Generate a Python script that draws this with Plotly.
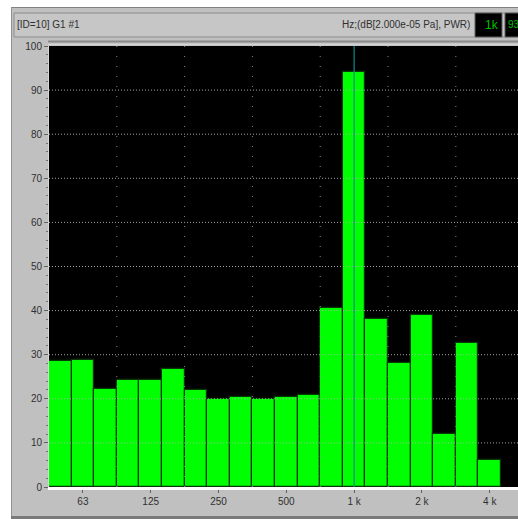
import plotly.graph_objects as go

# ---------------- data ----------------
bands = ["50", "63", "80", "100", "125", "160", "200", "250", "315", "400",
         "500", "630", "800", "1k", "1.25k", "1.6k", "2k", "2.5k", "3.15k", "4k"]
levels_db = [28.6, 28.9, 22.2, 24.3, 24.3, 26.8, 21.9, 19.9, 20.4, 19.9,
             20.4, 20.8, 40.6, 94.0, 38.0, 28.1, 38.9, 12.0, 32.7, 6.2]
tick_bands = ["63", "125", "250", "500", "1k", "2k", "4k"]
tick_text = ["63", "125", "250", "500", "1 k", "2 k", "4 k"]
y_ticks = [0, 10, 20, 30, 40, 50, 60, 70, 80, 90, 100]
cursor_band = "1k"
cursor_value = "93"
title_left = "[ID=10] G1 #1"
title_right = "Hz;(dB[2.000e-05 Pa], PWR)"

# ---------------- layout geometry ----------------
W, H = 518, 519
ML, MR, MT, MB = 49, 0, 46, 32
PW, PH = W - ML - MR, H - MT - MB


def px(x):
    return (x - ML) / PW


def py(y):
    return (H - MB - y) / PH


FONT = "Liberation Sans Narrow, Liberation Sans, Arial, sans-serif"

fig = go.Figure()
fig.add_trace(go.Bar(
    x=bands, y=levels_db,
    marker=dict(color="#00ff00", line=dict(color="#083808", width=1.2)),
    hoverinfo="x+y",
))

shapes = []
# white outer margins (left and top) and panel borders
shapes.append(dict(type="rect", xref="paper", yref="paper", layer="below",
                   x0=px(-5), x1=px(11), y0=py(-5), y1=py(525),
                   fillcolor="#ffffff", line=dict(width=0)))
shapes.append(dict(type="rect", xref="paper", yref="paper", layer="below",
                   x0=px(-5), x1=px(530), y0=py(-5), y1=py(7),
                   fillcolor="#ffffff", line=dict(width=0)))
shapes.append(dict(type="line", xref="paper", yref="paper", layer="below",
                   x0=px(11), x1=px(530), y0=py(7.5), y1=py(7.5),
                   line=dict(color="#808080", width=1)))
shapes.append(dict(type="line", xref="paper", yref="paper", layer="below",
                   x0=px(11.5), x1=px(11.5), y0=py(7), y1=py(525),
                   line=dict(color="#909090", width=1)))
shapes.append(dict(type="line", xref="paper", yref="paper", layer="below",
                   x0=px(11), x1=px(530), y0=py(517.5), y1=py(517.5),
                   line=dict(color="#7a7a7a", width=3)))
# header box
shapes.append(dict(type="rect", xref="paper", yref="paper", layer="below",
                   x0=px(14), x1=px(530), y0=py(13), y1=py(37),
                   fillcolor="#c6c6c6", line=dict(color="#8c8c8c", width=1)))
# black readout boxes
shapes.append(dict(type="rect", xref="paper", yref="paper", layer="above",
                   x0=px(475), x1=px(502), y0=py(13), y1=py(37),
                   fillcolor="#000000", line=dict(color="#606060", width=1)))
shapes.append(dict(type="rect", xref="paper", yref="paper", layer="above",
                   x0=px(505), x1=px(530), y0=py(13), y1=py(37),
                   fillcolor="#000000", line=dict(color="#606060", width=1)))
# separator above plot
shapes.append(dict(type="line", xref="paper", yref="paper", layer="above",
                   x0=px(48), x1=px(530), y0=py(41.5), y1=py(41.5),
                   line=dict(color="#8a8a8a", width=2)))
shapes.append(dict(type="line", xref="paper", yref="paper", layer="above",
                   x0=px(48), x1=px(530), y0=py(44.5), y1=py(44.5),
                   line=dict(color="#d4d4d4", width=1.5)))

# horizontal dotted grid (drawn over bars)
for v in y_ticks[1:-1]:
    shapes.append(dict(type="line", xref="paper", yref="y", layer="above",
                       x0=0, x1=1, y0=v, y1=v,
                       line=dict(color="rgba(180,180,180,0.9)", width=1, dash="1px,2px")))
# vertical dotted grid at octave band edges
for tb in tick_bands:
    k = bands.index(tb) + 1.5
    if k < len(bands) - 0.5:
        shapes.append(dict(type="line", xref="x", yref="paper", layer="above",
                           x0=k, x1=k, y0=0, y1=1,
                           line=dict(color="rgba(150,150,150,0.9)", width=1, dash="1px,9px")))
# cursor line
shapes.append(dict(type="line", xref="x", yref="paper", layer="above",
                   x0=cursor_band, x1=cursor_band, y0=0, y1=1,
                   line=dict(color="#0e8a8a", width=1.2)))

annotations = [
    dict(text=title_left, xref="paper", yref="paper", x=px(15), y=py(25),
         xanchor="left", yanchor="middle", showarrow=False,
         font=dict(family=FONT, size=10, color="#303030")),
    dict(text=title_right, xref="paper", yref="paper", x=px(472), y=py(25),
         xanchor="right", yanchor="middle", showarrow=False,
         font=dict(family=FONT, size=10, color="#303030")),
    dict(text=cursor_band, xref="paper", yref="paper", x=px(501), y=py(25),
         xanchor="right", yanchor="middle", showarrow=False,
         font=dict(family=FONT, size=12, color="#00c000")),
    dict(text=cursor_value, xref="paper", yref="paper", x=px(505.5), y=py(25),
         xanchor="left", yanchor="middle", showarrow=False,
         font=dict(family=FONT, size=10, color="#00c000")),
]

fig.update_layout(
    width=W, height=H,
    margin=dict(l=ML, r=MR, t=MT, b=MB, pad=0),
    paper_bgcolor="#c0c0c0",
    plot_bgcolor="#000000",
    bargap=0,
    showlegend=False,
    shapes=shapes,
    annotations=annotations,
    font=dict(family=FONT, size=10, color="#303030"),
    xaxis=dict(
        type="category", categoryorder="array", categoryarray=bands,
        range=[-0.5, 20.25],
        tickmode="array", tickvals=tick_bands, ticktext=tick_text,
        ticks="outside", ticklen=3, tickcolor="#606060",
        showgrid=False, zeroline=False,
        showline=True, linecolor="#ffffff", linewidth=3,
        tickfont=dict(family=FONT, size=10, color="#303030"),
        fixedrange=True,
    ),
    yaxis=dict(
        range=[0, 100], tickmode="array", tickvals=y_ticks,
        ticks="outside", ticklen=4, tickcolor="#606060",
        minor=dict(dtick=2, ticks="outside", ticklen=2, tickcolor="#707070", showgrid=False),
        showgrid=False, zeroline=False,
        showline=True, linecolor="#d8d8d8", linewidth=1,
        tickfont=dict(family=FONT, size=10, color="#303030"),
        fixedrange=True,
    ),
)

fig.write_html("out.html")
